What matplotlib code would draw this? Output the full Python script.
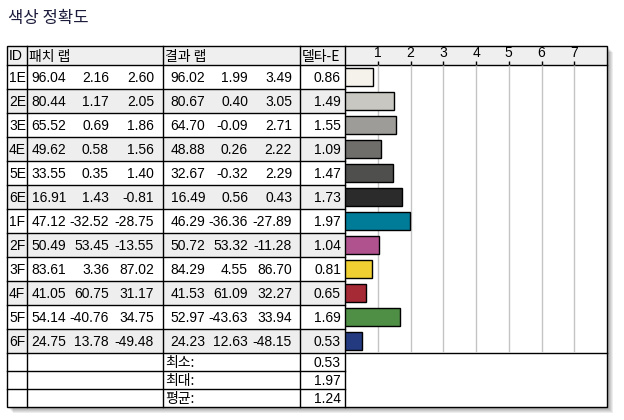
import matplotlib
matplotlib.use("Agg")
import matplotlib.pyplot as plt
from matplotlib.patches import Rectangle

# 데이터
patch_ids = ["1E", "2E", "3E", "4E", "5E", "6E", "1F", "2F", "3F", "4F", "5F", "6F"]
patch_L = [96.04, 80.44, 65.52, 49.62, 33.55, 16.91, 47.12, 50.49, 83.61, 41.05, 54.14, 24.75]
patch_a = [2.16, 1.17, 0.69, 0.58, 0.35, 1.43, -32.52, 53.45, 3.36, 60.75, -40.76, 13.78]
patch_b = [2.60, 2.05, 1.86, 1.56, 1.40, -0.81, -28.75, -13.55, 87.02, 31.17, 34.75, -49.48]
result_L = [96.02, 80.67, 64.70, 48.88, 32.67, 16.49, 46.29, 50.72, 84.29, 41.53, 52.97, 24.23]
result_a = [1.99, 0.40, -0.09, 0.26, -0.32, 0.56, -36.36, 53.32, 4.55, 61.09, -43.63, 12.63]
result_b = [3.49, 3.05, 2.71, 2.22, 2.29, 0.43, -27.89, -11.28, 86.70, 32.27, 33.94, -48.15]
delta_e = [0.86, 1.49, 1.55, 1.09, 1.47, 1.73, 1.97, 1.04, 0.81, 0.65, 1.69, 0.53]
bar_colors = ["#f5f2ec", "#c8c7c2", "#9d9c98", "#6f6e6b", "#4f4f4d", "#2b2b2b",
              "#007c99", "#b0528e", "#f0cf32", "#a62a36", "#4e8e45", "#233a80"]
summary_labels = ["최소:", "최대:", "평균:"]
summary_values = [0.53, 1.97, 1.24]
headers = ["ID", "패치 랩", "결과 랩", "델타-E"]
x_ticks = [1, 2, 3, 4, 5, 6, 7]

FONT = ["Liberation Sans", "Noto Sans CJK KR"]
KFONT = ["Noto Sans CJK KR", "Liberation Sans"]
FS = 10

fig = plt.figure(figsize=(6.24, 4.2), dpi=100)
ax = fig.add_axes([0, 0, 1, 1])
ax.set_xlim(0, 624)
ax.set_ylim(420, 0)
ax.axis("off")

# 표 geometry (pixel)
L, R, T, B = 7, 607, 46, 407
HB = 65  # header bottom
RH = 24
DB = HB + RH * len(patch_ids)  # 353
SH = 18
col_x = [27, 163, 300, 345]

# 제목
ax.text(8, 18, "색상 정확도", fontsize=12, family=KFONT, color="#1c1c3c", va="center", ha="left")

# 그림자
for k in range(1, 7):
    ax.add_patch(Rectangle((L + k, T + k), R - L, B - T, color="black", alpha=0.07, lw=0, zorder=0))
ax.add_patch(Rectangle((L, T), R - L, B - T, color="white", lw=0, zorder=1))

# 헤더 배경
ax.add_patch(Rectangle((L, T), R - L, HB - T, color="#efefef", lw=0, zorder=2))
# 줄무늬
for i in range(len(patch_ids)):
    if i % 2 == 1:
        ax.add_patch(Rectangle((L, HB + i * RH), col_x[3] - L, RH, color="#eeeeee", lw=0, zorder=2))

# 선
lw = 1.0
ax.add_patch(Rectangle((L, T), R - L, B - T, fill=False, ec="black", lw=lw, zorder=5))
for x in col_x:
    ax.plot([x, x], [T, B], color="black", lw=lw, zorder=5)
ax.plot([L, R], [HB, HB], color="black", lw=lw, zorder=5)
ax.plot([L, R], [DB, DB], color="black", lw=lw, zorder=5)
for i in range(1, len(patch_ids)):
    y = HB + i * RH
    ax.plot([L, col_x[3]], [y, y], color="black", lw=lw, zorder=5)
for j in range(1, len(summary_labels)):
    y = DB + j * SH
    ax.plot([L, col_x[3]], [y, y], color="black", lw=lw, zorder=5)

# 헤더 텍스트
hy = (T + HB) / 2 + 1
ax.text(9, hy, headers[0], fontsize=FS, family=FONT, va="center", ha="left", zorder=6)
ax.text(29, hy, headers[1], fontsize=FS, family=KFONT, va="center", ha="left", zorder=6)
ax.text(165, hy, headers[2], fontsize=FS, family=KFONT, va="center", ha="left", zorder=6)
ax.text(302, hy, headers[3], fontsize=FS, family=KFONT, va="center", ha="left", zorder=6)

# 데이터 텍스트
patch_right = [66, 109, 154]
result_right = [205, 248, 292]
for i, pid in enumerate(patch_ids):
    y = HB + i * RH + RH / 2 + 1
    ax.text(9, y, pid, fontsize=FS, family=FONT, va="center", ha="left", zorder=6)
    for xr, v in zip(patch_right, (patch_L[i], patch_a[i], patch_b[i])):
        ax.text(xr, y, f"{v:.2f}", fontsize=FS, family=FONT, va="center", ha="right", zorder=6)
    for xr, v in zip(result_right, (result_L[i], result_a[i], result_b[i])):
        ax.text(xr, y, f"{v:.2f}", fontsize=FS, family=FONT, va="center", ha="right", zorder=6)
    ax.text(341, y, f"{delta_e[i]:.2f}", fontsize=FS, family=FONT, va="center", ha="right", zorder=6)

for j, (lab, val) in enumerate(zip(summary_labels, summary_values)):
    y = DB + j * SH + SH / 2 + 1
    ax.text(165, y, lab, fontsize=FS, family=KFONT, va="center", ha="left", zorder=6)
    ax.text(341, y, f"{val:.2f}", fontsize=FS, family=FONT, va="center", ha="right", zorder=6)

# 막대 그래프
W, H = 624, 420
bx = fig.add_axes([col_x[3] / W, (H - DB) / H, (R - col_x[3]) / W, (DB - HB) / H])
bx.patch.set_visible(False)
pos = list(range(len(patch_ids)))
bx.barh(pos, delta_e, height=0.72, color=bar_colors, edgecolor="black", linewidth=1.0, zorder=3)
bx.set_xlim(0, 8)
bx.set_ylim(len(patch_ids) - 0.5, -0.5)
bx.set_xticks(x_ticks)
bx.set_xticklabels([str(t) for t in x_ticks], fontsize=FS, family=FONT)
bx.set_yticks([])
bx.grid(axis="x", color="#c4c4c4", lw=1.0, zorder=1)
bx.xaxis.tick_top()
bx.tick_params(axis="x", direction="out", length=3, width=1, pad=0.5, top=True, bottom=False,
               labeltop=True, labelbottom=False)
for s in bx.spines.values():
    s.set_visible(False)

fig.savefig("out.png", dpi=100)
